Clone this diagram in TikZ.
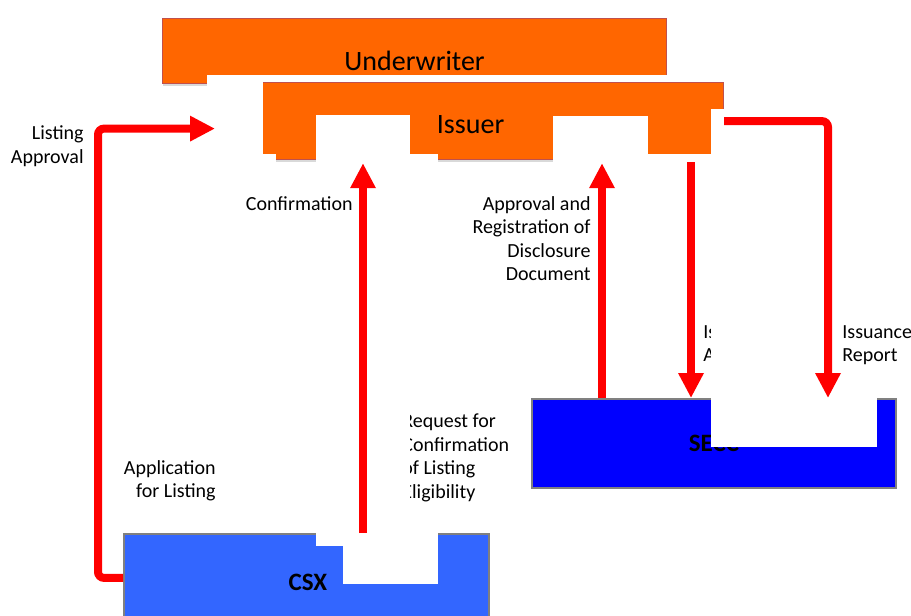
\documentclass[tikz,border=0pt]{standalone}
\usepackage{fontspec}
\setmainfont{Carlito}
\usepackage{xcolor}
\usepackage{tikz}
\usetikzlibrary{arrows.meta,calc,positioning,shadows}
\definecolor{partyorange}{HTML}{FF6600}
\definecolor{partyedge}{HTML}{C0504D}
\definecolor{csxblue}{HTML}{3366FF}
\definecolor{seccblue}{HTML}{0000FF}

\begin{document}
\begin{tikzpicture}[x=0.5pt,y=-0.5pt,>={Triangle[width=12pt,length=12.5pt]},
  party/.style={draw=partyedge,line width=0.6pt,fill=partyorange,anchor=north west,inner sep=0pt,
    drop shadow={opacity=0.3,shadow xshift=0.4pt,shadow yshift=-1.2pt}},
  market/.style={draw=gray,line width=0.9pt,anchor=north west,inner sep=0pt},
  flow/.style={->,draw=red,line width=4pt},
  note/.style={font=\fontsize{10}{11.75}\selectfont,inner sep=0pt},
  patch/.style={fill=white}]
  \useasboundingbox (0,0) rectangle (911,616);

  % Underwriter and Issuer
  \node[party,minimum width=252pt,minimum height=32.5pt] (uw) at (162,18) {};
  \node[font=\fontsize{14}{16}\selectfont] (uwtext) at ($(uw.center)+(0,10)$) {Underwriter};
  \fill[patch] (207,75) rectangle (730,82);
  \node[party,minimum width=254pt,minimum height=38.5pt] (issuer) at (215,82) {};
  \node[font=\fontsize{14}{16}\selectfont] (issuertext) at ($(issuer.center)+(1,4)$) {Issuer};
  \fill[patch] (207,82) rectangle (263,168);
  \fill[patch] (263,154) rectangle (276,168);
  \fill[patch] (316,115) rectangle (410,168);
  \fill[patch] (410,154) rectangle (438,168);
  \fill[patch] (553,116) rectangle (648,168);
  \fill[patch] (648,154) rectangle (730,168);
  \fill[patch] (711,109) rectangle (730,168);

  % CSX and SECC
  \node[market,fill=csxblue,minimum width=182.5pt,minimum height=44pt] (csx) at (123,533) {};
  \node[font=\fontsize{12.5}{14}\selectfont\bfseries] (csxtext) at ($(csx.center)+(1.5,4)$) {CSX};
  \node[market,fill=seccblue,minimum width=182pt,minimum height=44.5pt,
    font=\fontsize{12.5}{14}\selectfont\bfseries] (secc) at (531,398) {SECC};
  \fill[patch] (316,528) rectangle (343,546);
  \fill[patch] (343,528) rectangle (438,584);

  % Labels
  \node[note,anchor=east,align=right] (listing) at (84,146) {Listing\\Approval};
  \node[note,anchor=east] (confirm) at (353,204) {Confirmation};
  \node[note,anchor=east,align=right] (approvalreg) at (591,238.5) {Approval and\\Registration of\\Disclosure\\Document};
  \node[note,anchor=east,align=right] (application) at (216,481) {Application\\for Listing};
  \node[note,anchor=west,align=left] (request) at (402,458) {Request for\\Confirmation\\of Listing\\Eligibility};
  \node[note,anchor=west,align=left] (issapproval) at (703,345) {Issuance\\Approval};
  \fill[patch] (385,400) rectangle (410,510);
  \fill[patch] (711,310) rectangle (877,447);
  \node[note,anchor=west,align=left] (issreport) at (842,345) {Issuance\\Report};

  % Flows
  \coordinate (confx) at (363,0);
  \coordinate (regx) at (602,0);
  \coordinate (isx) at (691,0);
  \coordinate (repx) at (828,0);
  \draw[flow,rounded corners=3pt] (csx.west) -- ++(-25,0) |- ($(issuer.west)+(0,7.5)$);
  \draw[flow,shorten >=1.5pt] (csx.north -| confx) -- (issuer.south -| confx);
  \draw[flow,shorten >=1.5pt] (secc.north -| regx) -- (issuer.south -| regx);
  \draw[flow,shorten <=1pt] (issuer.south -| isx) -- (secc.north -| isx);
  \draw[flow,rounded corners=3pt] (issuer.east) -| (secc.north -| repx);
\end{tikzpicture}
\end{document}
